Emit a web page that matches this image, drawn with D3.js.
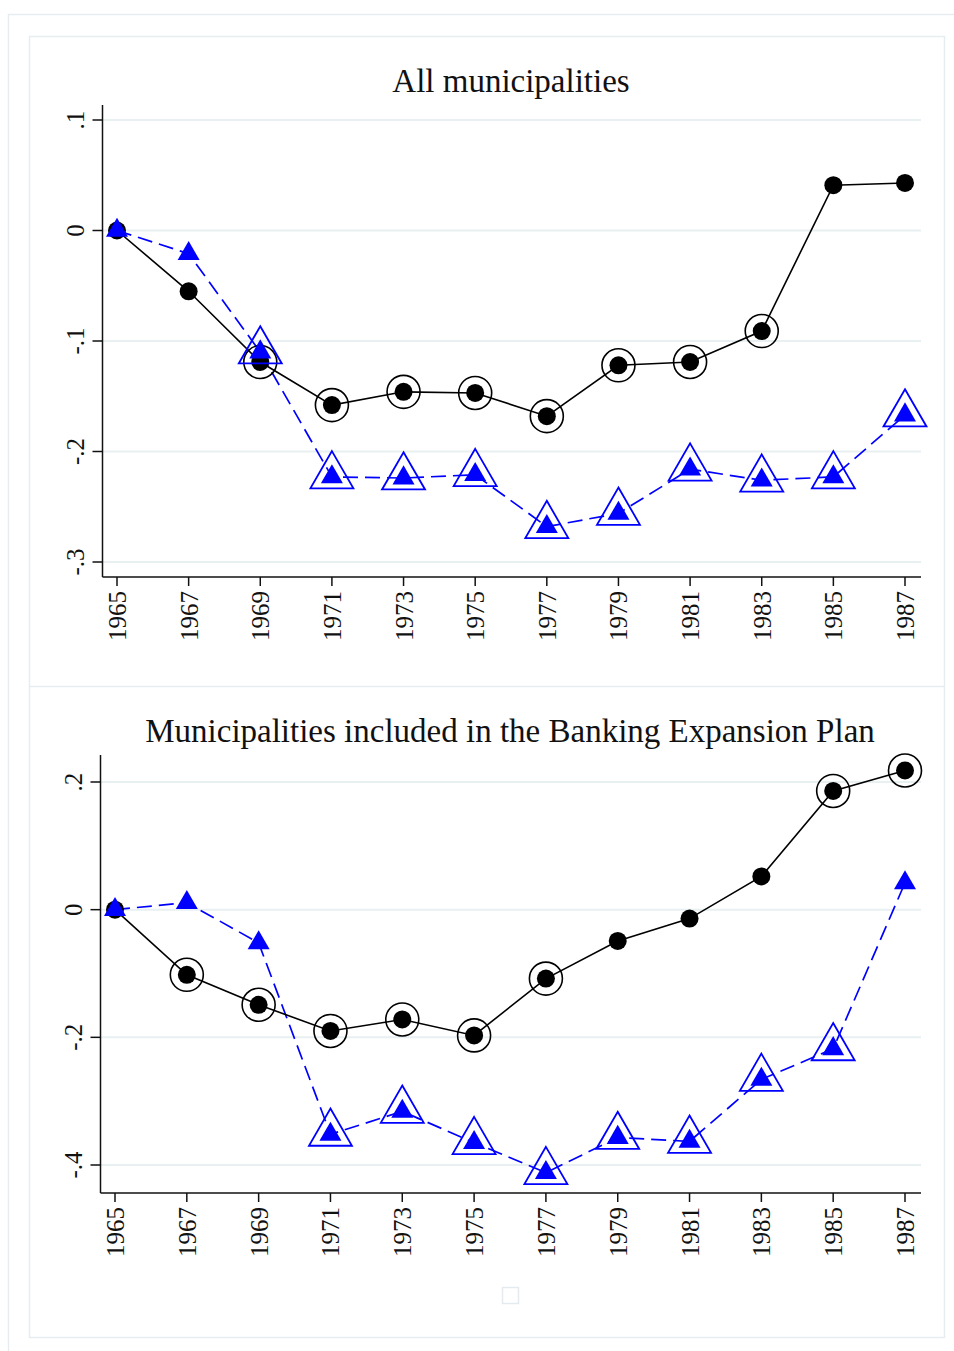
<!DOCTYPE html>
<html><head><meta charset="utf-8">
<script src="https://cdn.jsdelivr.net/npm/d3@7"></script>
<style>body{margin:0;background:#fff}svg{display:block}text{font-family:"Liberation Serif","DejaVu Serif",serif;fill:#111}</style>
</head><body>
<script>
const years = [1965,1967,1969,1971,1973,1975,1977,1979,1981,1983,1985,1987];
// Panel A: All municipalities
const allBlack = [0,-0.055,-0.119,-0.158,-0.146,-0.147,-0.168,-0.122,-0.119,-0.091,0.041,0.043];
const allBlackSig = [0,0,1,1,1,1,1,1,1,1,0,0];
const allBlue = [0,-0.021,-0.110,-0.223,-0.224,-0.221,-0.268,-0.256,-0.216,-0.226,-0.223,-0.167];
const allBlueSig = [0,0,1,1,1,1,1,1,1,1,1,1];
const allYTicks = [0.1,0,-0.1,-0.2,-0.3];
const allYLabels = [".1","0","-.1","-.2","-.3"];
// Panel B: Banking Expansion Plan
const bepBlack = [0,-0.102,-0.149,-0.190,-0.172,-0.197,-0.108,-0.049,-0.014,0.052,0.186,0.218];
const bepBlackSig = [0,1,1,1,1,1,1,0,0,0,1,1];
const bepBlue = [0,0.011,-0.052,-0.352,-0.316,-0.365,-0.412,-0.357,-0.363,-0.266,-0.218,0.042];
const bepBlueSig = [0,0,0,1,1,1,1,1,1,1,1,0];
const bepYTicks = [0.2,0,-0.2,-0.4];
const bepYLabels = [".2","0","-.2","-.4"];
const titles = ["All municipalities","Municipalities included in the Banking Expansion Plan"];

const W=954,H=1351;
const svg=d3.select("body").append("svg").attr("width",W).attr("height",H);
const frame="#e6edf1";
svg.append("line").attr("x1",8).attr("x2",W).attr("y1",14.5).attr("y2",14.5).attr("stroke",frame).attr("stroke-width",1.5);
svg.append("line").attr("x1",8.5).attr("x2",8.5).attr("y1",14).attr("y2",H).attr("stroke",frame).attr("stroke-width",1.5);
svg.append("rect").attr("x",29.5).attr("y",36.5).attr("width",915).attr("height",1301).attr("fill","none").attr("stroke",frame).attr("stroke-width",1.5);
svg.append("line").attr("x1",29.5).attr("x2",944.5).attr("y1",686.5).attr("y2",686.5).attr("stroke",frame).attr("stroke-width",1.5);
svg.append("rect").attr("x",502.5).attr("y",1287.5).attr("width",16).attr("height",16).attr("fill","none").attr("stroke","#e3ebee").attr("stroke-width",1.5);

function panel(cfg){
  const g=svg.append("g");
  const x=d3.scaleLinear().domain([1965,1987]).range([cfg.x0,cfg.x1]);
  const y=d3.scaleLinear().domain([cfg.yTicks[0],cfg.yTicks[cfg.yTicks.length-1]]).range([cfg.yTop,cfg.yBot]);
  g.selectAll(".grid").data(cfg.yTicks).join("line")
    .attr("x1",cfg.axL).attr("x2",cfg.axR).attr("y1",d=>y(d)).attr("y2",d=>y(d))
    .attr("stroke","#e9f0f2").attr("stroke-width",2);
  g.append("line").attr("x1",cfg.axL).attr("x2",cfg.axL).attr("y1",cfg.axT).attr("y2",cfg.axB).attr("stroke","#111").attr("stroke-width",1.5);
  g.append("line").attr("x1",cfg.axL).attr("x2",cfg.axR).attr("y1",cfg.axB).attr("y2",cfg.axB).attr("stroke","#111").attr("stroke-width",1.5);
  g.selectAll(".yt").data(cfg.yTicks).join("line")
    .attr("x1",cfg.axL-10).attr("x2",cfg.axL).attr("y1",d=>y(d)).attr("y2",d=>y(d)).attr("stroke","#111").attr("stroke-width",1.5);
  g.selectAll(".yl").data(cfg.yTicks).join("text")
    .attr("transform",d=>`translate(${cfg.axL-19},${y(d)}) rotate(-90)`)
    .attr("text-anchor","middle").attr("font-size",25).text((d,i)=>cfg.yLabels[i]);
  g.selectAll(".xt").data(years).join("line")
    .attr("x1",d=>x(d)).attr("x2",d=>x(d)).attr("y1",cfg.axB).attr("y2",cfg.axB+9).attr("stroke","#111").attr("stroke-width",1.5);
  g.selectAll(".xl").data(years).join("text")
    .attr("transform",d=>`translate(${x(d)+9},${cfg.axB+14}) rotate(-90)`)
    .attr("text-anchor","end").attr("font-size",25).text(d=>d);
  g.append("text").attr("x",cfg.tx).attr("y",cfg.ty).attr("text-anchor","middle").attr("font-size",33).text(cfg.title);
  const line=d3.line().x((d,i)=>x(years[i])).y(d=>y(d));
  g.append("path").datum(cfg.blue).attr("d",line).attr("fill","none").attr("stroke","#0000ff").attr("stroke-width",1.7).attr("stroke-dasharray","15,7");
  g.append("path").datum(cfg.black).attr("d",line).attr("fill","none").attr("stroke","#000").attr("stroke-width",1.6);
  const tri=(s)=>d3.symbol().type(d3.symbolTriangle).size(s)();
  g.selectAll(".bc").data(cfg.black).join("circle").attr("cx",(d,i)=>x(years[i])).attr("cy",d=>y(d)).attr("r",9).attr("fill","#000");
  g.selectAll(".br").data(cfg.black.map((v,i)=>({v,i})).filter(d=>cfg.blackSig[d.i])).join("circle")
    .attr("cx",d=>x(years[d.i])).attr("cy",d=>y(d.v)).attr("r",16.5).attr("fill","none").attr("stroke","#000").attr("stroke-width",1.6);
  g.selectAll(".tf").data(cfg.blue).join("path").attr("d",tri(210)).attr("transform",(d,i)=>`translate(${x(years[i])},${y(d)})`).attr("fill","#0000ff");
  g.selectAll(".tr").data(cfg.blue.map((v,i)=>({v,i})).filter(d=>cfg.blueSig[d.i])).join("path")
    .attr("d",tri(800)).attr("transform",d=>`translate(${x(years[d.i])},${y(d.v)-1})`).attr("fill","none").attr("stroke","#0000ff").attr("stroke-width",1.8);
}

panel({x0:117,x1:905,axL:102.5,axR:921,axT:105,axB:577,yTop:120,yBot:562,yTicks:allYTicks,yLabels:allYLabels,
  black:allBlack,blackSig:allBlackSig,blue:allBlue,blueSig:allBlueSig,title:titles[0],tx:511,ty:92});
panel({x0:115,x1:905,axL:100.5,axR:921,axT:755,axB:1193,yTop:782,yBot:1165,yTicks:bepYTicks,yLabels:bepYLabels,
  black:bepBlack,blackSig:bepBlackSig,blue:bepBlue,blueSig:bepBlueSig,title:titles[1],tx:510,ty:742});
</script>
</body></html>
